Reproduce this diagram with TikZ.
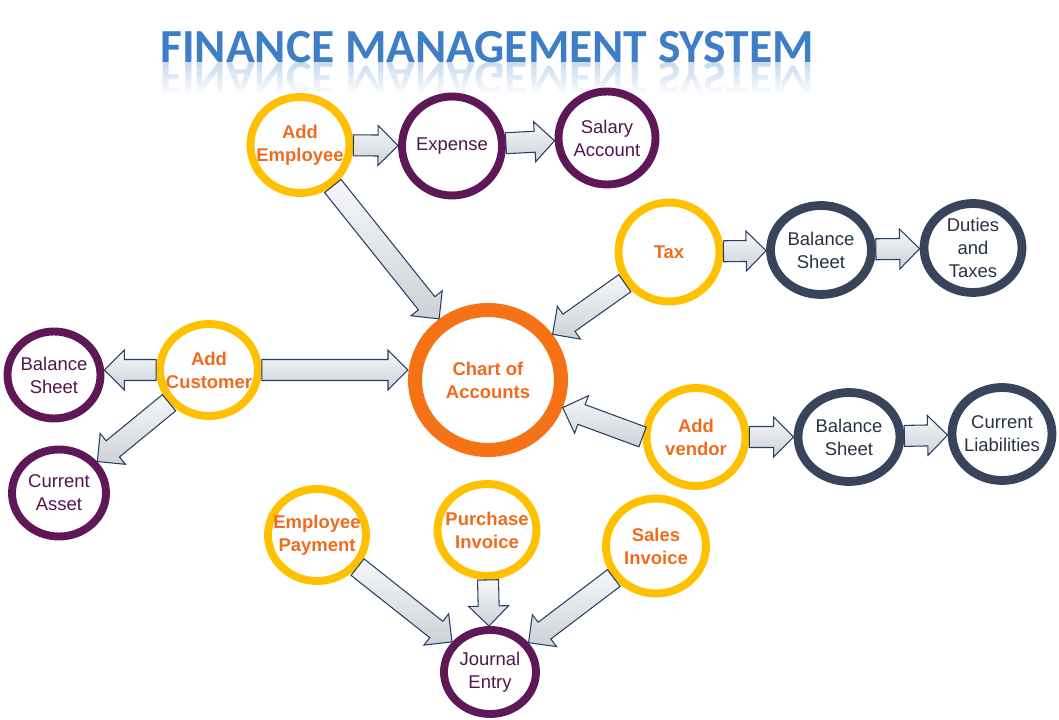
\documentclass[tikz,border=0pt]{standalone}
\usepackage{fontspec}
\setmainfont{Liberation Sans}
\newfontfamily\titlefont{Carlito}
\usepackage{tikz}
\usetikzlibrary{shapes.geometric,calc,fadings}

\definecolor{ringyel}{RGB}{255,192,0}
\definecolor{ringorg}{RGB}{246,114,22}
\definecolor{ringpur}{RGB}{94,24,88}
\definecolor{ringnav}{RGB}{56,68,90}
\definecolor{txtorg}{RGB}{238,108,30}
\definecolor{txtpur}{RGB}{80,22,76}
\definecolor{txtnav}{RGB}{40,50,66}
\definecolor{arrline}{RGB}{40,62,98}
\definecolor{arrlight}{RGB}{246,247,249}
\definecolor{arrdark}{RGB}{205,210,216}
\definecolor{titleblue}{RGB}{62,126,198}
\definecolor{titletop}{RGB}{112,166,222}
\definecolor{titlebot}{RGB}{38,102,178}

\tikzset{
  otext/.style={text=txtorg, font=\bfseries\fontsize{10.5}{13}\selectfont, align=center},
  ptext/.style={text=txtpur, font=\fontsize{10.5}{13}\selectfont, align=center},
  ntext/.style={text=txtnav, font=\fontsize{10.5}{13}\selectfont, align=center},
  ybub/.style={ellipse, draw=ringyel, line width=4.5pt, minimum width=1.98cm, minimum height=1.92cm, inner sep=0pt, label={[otext]center:#1}},
  pbub/.style={ellipse, draw=ringpur, line width=4.5pt, minimum width=1.94cm, minimum height=1.82cm, inner sep=0pt, label={[ptext]center:#1}},
  nbub/.style={ellipse, draw=ringnav, line width=5pt, minimum width=2.02cm, minimum height=1.78cm, inner sep=0pt, label={[ntext]center:#1}},
  blockarr/.style={draw=arrline, line width=0.6pt, top color=arrlight, bottom color=arrdark, line join=miter},
  titletxt/.style={text=titleblue, font=\titlefont\bfseries\fontsize{27}{32}\selectfont}
}

\begin{tikzfadingfrompicture}[name=titlefade]
  \node[titletxt, text=transparent!0] at (0,0) {FINANCE MANAGEMENT SYSTEM};
\end{tikzfadingfrompicture}

% block arrow between two bubbles
\newcommand{\barrow}[2]{%
  \path (#1) -- (#2) coordinate[pos=0] (bs) coordinate[pos=1] (be);
  \draw[blockarr] let \p1=($(be)-(bs)$), \n1={atan2(\y1,\x1)}, \n2={veclen(\x1,\y1)} in
    [shift={(bs)}, rotate=\n1]
    (0pt,-5.97pt) -- ({\n2-11.38pt},-5.97pt) -- ({\n2-11.38pt},-11.38pt) -- (\n2,0pt)
    -- ({\n2-11.38pt},11.38pt) -- ({\n2-11.38pt},5.97pt) -- (0pt,5.97pt) -- cycle;
}

\begin{document}
\begin{tikzpicture}
    \useasboundingbox (0,0) rectangle (21.18,14.4);

    % title, its gradient and its reflection
    \node[titletxt, anchor=base] (title) at (9.74,13.14) {FINANCE MANAGEMENT SYSTEM};
    \shade[path fading=titlefade, fit fading=false, top color=titletop, bottom color=titlebot]
        ($(title.center)+(-7,-0.34)$) rectangle ($(title.center)+(7,0.34)$);
    \begin{scope}[yscale=-1, transform shape]
        \node[titletxt, anchor=base, opacity=0.28] (titleref) at (9.74,-13.14) {FINANCE MANAGEMENT SYSTEM};
    \end{scope}
    \fill[white, path fading=north] (3.0,12.5) rectangle (16.6,13.12);

    % bubbles
    \node[ybub={Add\\Employee}] (addemp) at (6.0,11.5) {};
    \node[pbub={Expense}, minimum width=2.0cm, minimum height=1.98cm] (expense) at (9.04,11.48) {};
    \node[pbub={Salary\\Account}, minimum height=1.86cm] (salary) at (12.14,11.64) {};
    \node[ybub={Tax}, minimum width=2.02cm, minimum height=1.98cm] (tax) at (13.38,9.36) {};
    \node[nbub={Balance\\Sheet}] (bstax) at (16.42,9.4) {};
    \node[nbub={Duties\\and\\Taxes}, minimum width=1.96cm] (duties) at (19.46,9.44) {};
    \node[ellipse, draw=ringorg, line width=8pt, minimum width=2.92cm, minimum height=2.8cm, inner sep=0pt,
          label={[otext]center:Chart of\\Accounts}] (chart) at (9.76,6.8) {};
    \node[ybub={Add\\Customer}, minimum width=1.96cm, minimum height=1.84cm] (cust) at (4.18,7.0) {};
    \node[pbub={Balance\\Sheet}, minimum width=1.86cm, minimum height=1.74cm] (bscust) at (1.08,6.9) {};
    \node[pbub={Current\\Asset}, minimum width=1.88cm, minimum height=1.74cm] (asset) at (1.18,4.54) {};
    \node[ybub={Add\\vendor}, minimum height=1.96cm] (vendor) at (13.92,5.66) {};
    \node[nbub={Balance\\Sheet}, minimum width=2.04cm] (bsvend) at (16.98,5.66) {};
    \node[nbub={Current\\Liabilities}, minimum width=2.0cm, minimum height=1.86cm] (liab) at (20.04,5.72) {};
    \node[ybub={Employee\\Payment}, minimum width=1.96cm, minimum height=1.84cm] (emppay) at (6.34,3.7) {};
    \node[ybub={Purchase\\Invoice}, minimum height=1.84cm] (purch) at (9.74,3.8) {};
    \node[ybub={Sales\\Invoice}, minimum width=2.0cm, minimum height=1.9cm] (sales) at (13.12,3.48) {};
    \node[pbub={Journal\\Entry}, minimum width=1.84cm, minimum height=1.68cm] (journal) at (9.8,0.96) {};

    % connectors
    \barrow{addemp}{expense}
    \barrow{expense}{salary}
    \barrow{addemp}{chart}
    \barrow{tax}{bstax}
    \barrow{bstax}{duties}
    \barrow{tax}{chart}
    \barrow{cust}{chart.west |- cust}
    \barrow{cust}{bscust.east |- cust}
    \barrow{cust}{asset}
    \barrow{vendor.west}{chart}
    \barrow{vendor}{bsvend}
    \barrow{bsvend}{liab}
    \barrow{emppay}{journal}
    \barrow{purch}{journal}
    \barrow{sales}{journal}
\end{tikzpicture}
\end{document}
